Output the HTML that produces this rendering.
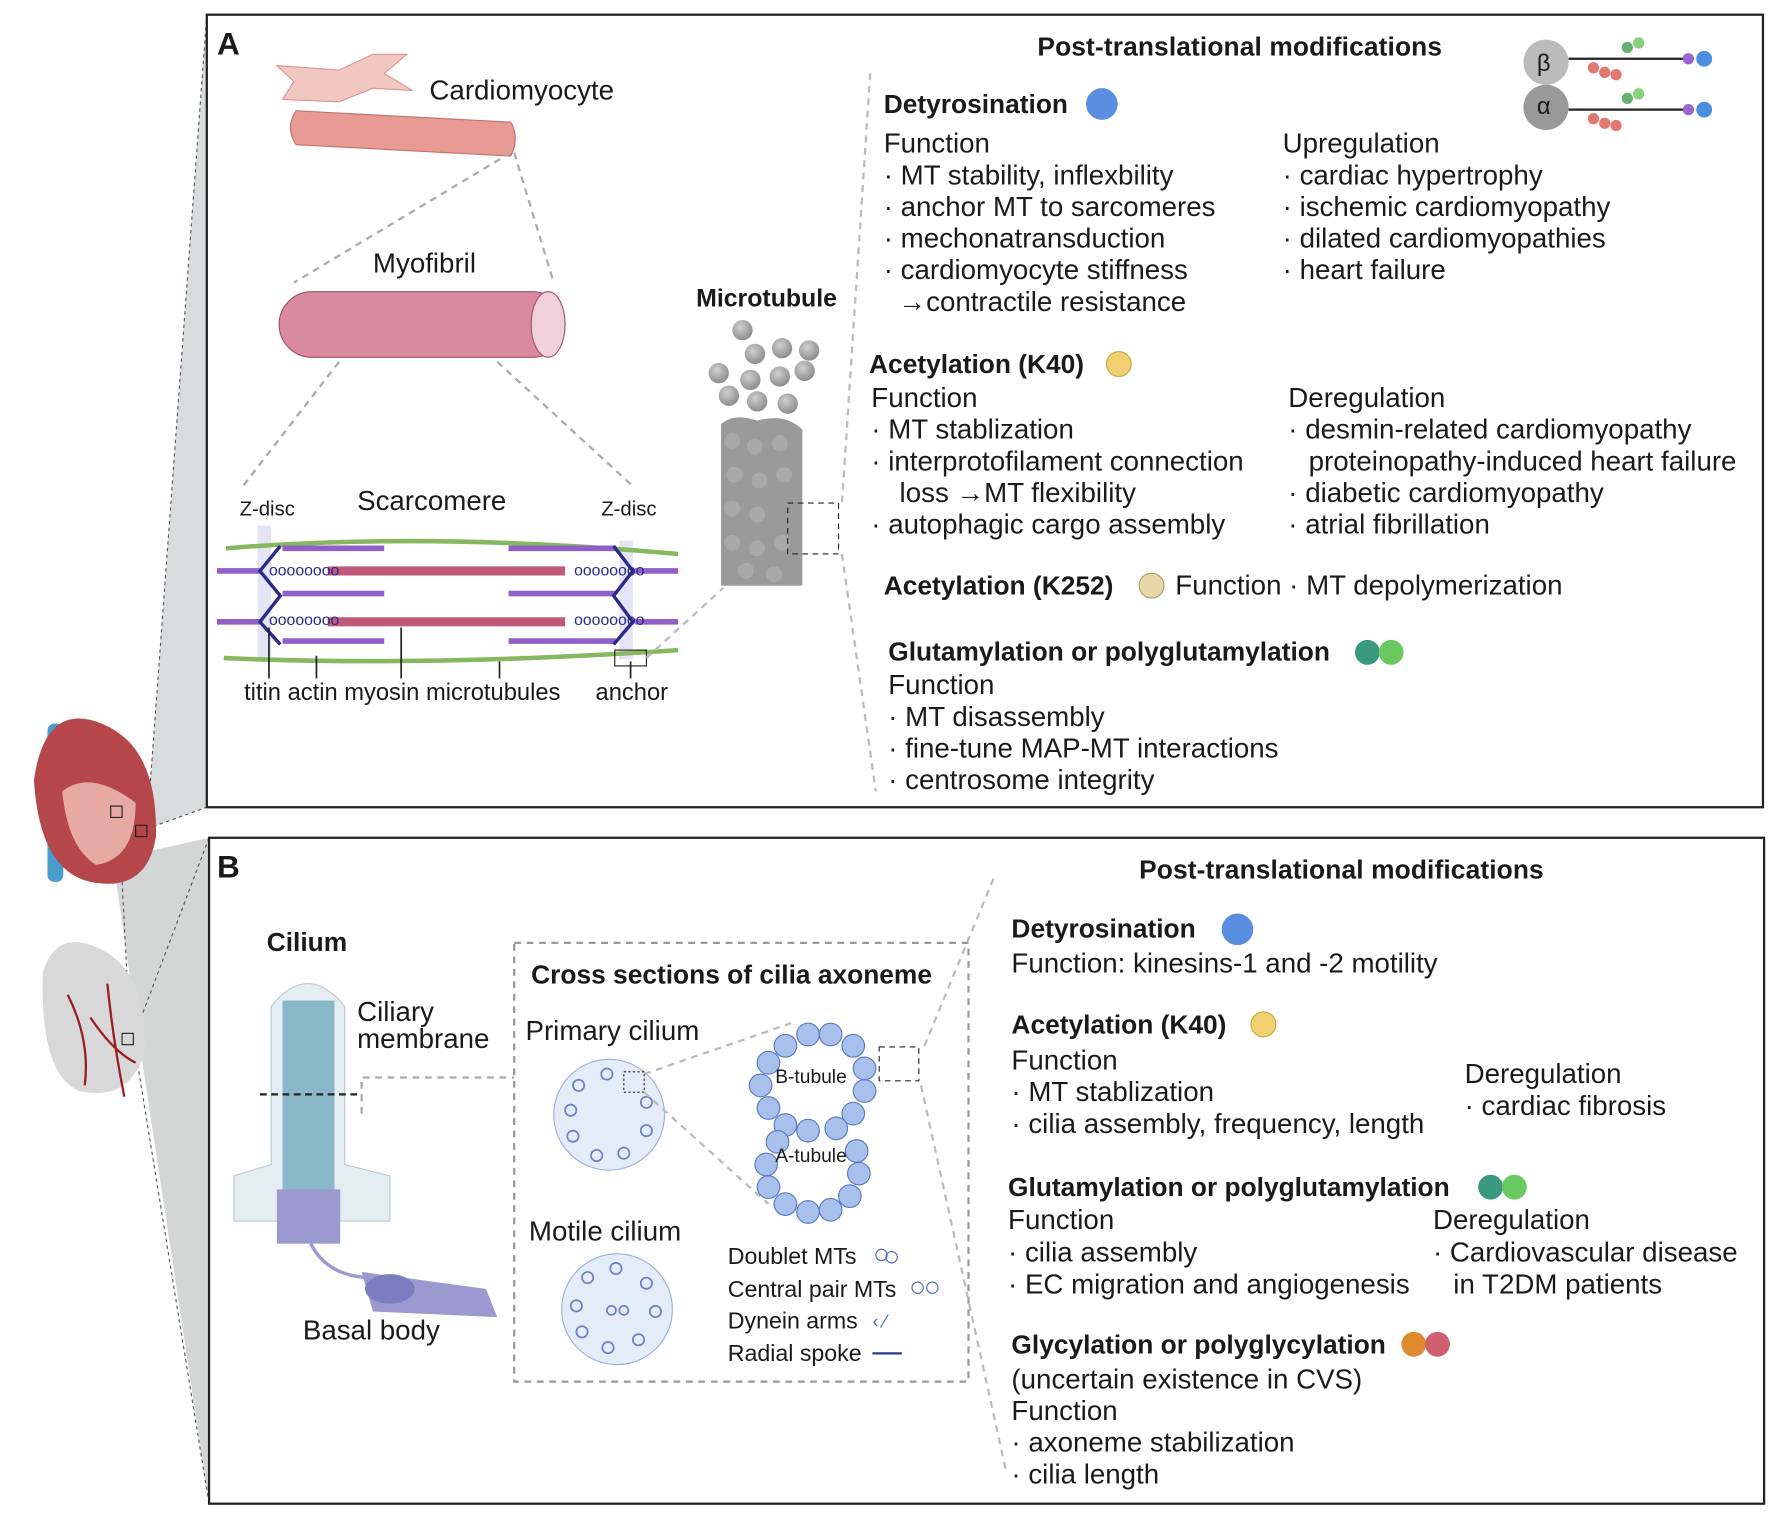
<!DOCTYPE html>
<html><head><meta charset="utf-8"><style>
html,body{margin:0;padding:0;background:#fff}
svg{display:block}
text{font-family:"Liberation Sans",Arial,sans-serif;fill:#1a1a1a}
.b{font-weight:bold;font-size:23.3px}
.t{font-size:24.5px}
</style></head><body>
<svg width="1772" height="1515" viewBox="0 0 1568 1340" preserveAspectRatio="none" xmlns="http://www.w3.org/2000/svg">
<defs>
<radialGradient id="g" cx="0.4" cy="0.35" r="0.7"><stop offset="0" stop-color="#d0d0d0"/><stop offset="1" stop-color="#888"/></radialGradient>
</defs>
<rect width="1568" height="1340" fill="#fff"/>
<polygon points="130,733 183,13 183,714" fill="#d9dcdc"/>
<polygon points="100,760 185,741 185,1330 120,900" fill="#d4d6d6"/>
<line x1="130" y1="733" x2="183" y2="13" stroke="#555" stroke-dasharray="3,3"/>
<line x1="130" y1="733" x2="183" y2="714" stroke="#555" stroke-dasharray="3,3"/>
<line x1="105" y1="720" x2="115" y2="915" stroke="#555" stroke-dasharray="3,3"/>
<line x1="118" y1="918" x2="185" y2="741" stroke="#555" stroke-dasharray="3,3"/>
<line x1="118" y1="918" x2="185" y2="1330" stroke="#555" stroke-dasharray="3,3"/>
<g>
<rect x="42" y="640" width="14" height="140" rx="6" fill="#4a9ccc"/>
<path d="M30 690 Q40 620 90 640 Q140 660 138 740 Q130 790 80 780 Q35 770 30 690Z" fill="#b5474b"/>
<path d="M55 700 Q80 680 120 710 Q120 760 85 765 Q60 750 55 700Z" fill="#e6a9a3"/>
<rect x="98" y="713" width="10" height="10" fill="none" stroke="#222"/>
<rect x="120" y="730" width="10" height="10" fill="none" stroke="#222"/>
</g>
<g>
<path d="M38 860 Q50 820 90 840 Q130 860 128 930 Q115 975 70 965 Q35 950 38 860Z" fill="#d8d8d8"/>
<path d="M60 880 Q80 920 75 960 M95 870 Q100 920 110 970 M80 900 Q100 930 120 940" stroke="#9b1c1c" stroke-width="2" fill="none"/>
<rect x="108" y="914" width="10" height="10" fill="none" stroke="#222"/>
</g>
<rect x="183" y="13" width="1377" height="701" fill="#fff" stroke="#222" stroke-width="2"/>
<text x="192" y="48" style="font-weight:bold;font-size:28px">A</text>
<path d="M245 58 L300 62 L330 48 L360 48 L340 65 L365 80 L330 78 L300 90 L250 88 L260 72Z" fill="#f2c7c2" stroke="#d89690"/>
<path d="M262 98 L452 108 Q460 122 452 138 L262 128 Q252 113 262 98Z" fill="#e89a95" stroke="#c4706b"/>
<text x="380" y="88" class="t">Cardiomyocyte</text>
<line x1="455" y1="135" x2="490" y2="250" stroke="#aaa" stroke-width="2" stroke-dasharray="6,5"/>
<line x1="452" y1="135" x2="260" y2="250" stroke="#aaa" stroke-width="2" stroke-dasharray="6,5"/>
<text x="330" y="241" class="t">Myofibril</text>
<rect x="247" y="258" width="253" height="58" rx="29" fill="#d98a9c" stroke="#a0506a"/>
<ellipse cx="485" cy="287" rx="15" ry="29" fill="#f0d0da" stroke="#a0506a"/>
<line x1="300" y1="320" x2="215" y2="430" stroke="#aaa" stroke-width="2" stroke-dasharray="6,5"/>
<line x1="440" y1="320" x2="560" y2="430" stroke="#aaa" stroke-width="2" stroke-dasharray="6,5"/>
<text x="212" y="456" style="font-size:18px">Z-disc</text>
<text x="316" y="451" class="t">Scarcomere</text>
<text x="532" y="456" style="font-size:18px">Z-disc</text>
<rect x="228" y="465" width="12" height="120" fill="#e4e4f4"/>
<rect x="548" y="478" width="12" height="105" fill="#e4e4f4"/>
<path d="M200 485 Q380 470 600 490" stroke="#86b860" stroke-width="4" fill="none"/>
<path d="M198 582 Q380 590 600 575" stroke="#86b860" stroke-width="4" fill="none"/>
<g stroke="#9060c8" stroke-width="5">
<line x1="192" y1="505" x2="230" y2="505"/><line x1="562" y1="505" x2="600" y2="505"/>
<line x1="192" y1="550" x2="230" y2="550"/><line x1="562" y1="550" x2="600" y2="550"/>
<line x1="250" y1="485" x2="340" y2="485"/><line x1="450" y1="485" x2="545" y2="485"/>
<line x1="250" y1="525" x2="340" y2="525"/><line x1="450" y1="525" x2="545" y2="525"/>
<line x1="250" y1="567" x2="340" y2="567"/><line x1="450" y1="567" x2="545" y2="567"/>
</g>
<g stroke="#c05a78" stroke-width="8">
<line x1="290" y1="505" x2="500" y2="505"/><line x1="290" y1="550" x2="500" y2="550"/>
</g>
<path d="M248 483 L230 505 L248 527 L230 550 L248 570 M543 483 L560 505 L543 527 L560 550 L543 570" stroke="#2a2a8a" stroke-width="3" fill="none"/>
<text x="238" y="509" style="font-size:14px;fill:#2a2a8a">oooooooo</text>
<text x="508" y="509" style="font-size:14px;fill:#2a2a8a">oooooooo</text>
<text x="238" y="553" style="font-size:14px;fill:#2a2a8a">oooooooo</text>
<text x="508" y="553" style="font-size:14px;fill:#2a2a8a">oooooooo</text>
<rect x="544" y="575" width="28" height="14" fill="none" stroke="#222"/>
<g stroke="#222" stroke-width="1.5">
<line x1="238" y1="555" x2="238" y2="600"/><line x1="280" y1="580" x2="280" y2="600"/>
<line x1="355" y1="555" x2="355" y2="600"/><line x1="442" y1="585" x2="442" y2="600"/><line x1="558" y1="585" x2="558" y2="600"/>
</g>
<text x="216" y="619" style="font-size:21px">titin actin myosin microtubules</text>
<text x="527" y="619" style="font-size:21px">anchor</text>
<line x1="572" y1="582" x2="640" y2="520" stroke="#bbb" stroke-width="2" stroke-dasharray="6,5"/>
<text x="616" y="271" style="font-weight:bold;font-size:22px">Microtubule</text>
<g fill="url(#g)">
<circle cx="657" cy="292" r="9"/><circle cx="692" cy="308" r="9"/><circle cx="716" cy="310" r="9"/><circle cx="668" cy="313" r="9"/>
<circle cx="636" cy="330" r="9"/><circle cx="664" cy="336" r="9"/><circle cx="690" cy="333" r="9"/><circle cx="712" cy="328" r="9"/>
<circle cx="645" cy="350" r="9"/><circle cx="670" cy="355" r="9"/><circle cx="697" cy="357" r="9"/>
</g>
<path d="M638 375 Q650 365 670 372 Q695 365 710 380 L710 518 L638 518Z" fill="#9a9a9a"/>
<g fill="#b4b4b4" opacity="0.6">
<circle cx="648" cy="390" r="7"/><circle cx="668" cy="395" r="7"/><circle cx="690" cy="392" r="7"/><circle cx="650" cy="420" r="7"/><circle cx="672" cy="425" r="7"/><circle cx="694" cy="420" r="7"/><circle cx="648" cy="450" r="7"/><circle cx="670" cy="455" r="7"/><circle cx="648" cy="480" r="7"/><circle cx="670" cy="485" r="7"/><circle cx="692" cy="480" r="7"/><circle cx="660" cy="505" r="7"/><circle cx="685" cy="508" r="7"/>
</g>
<rect x="697" y="445" width="45" height="45" fill="none" stroke="#222" stroke-dasharray="5,4"/>
<line x1="770" y1="65" x2="745" y2="445" stroke="#bbb" stroke-width="2" stroke-dasharray="6,5"/>
<line x1="745" y1="490" x2="775" y2="700" stroke="#bbb" stroke-width="2" stroke-dasharray="6,5"/>
<text x="918" y="49" class="b" textLength="358">Post-translational modifications</text>
<circle cx="1368" cy="55" r="20" fill="#bbb"/><text x="1360" y="63" style="font-size:21px">β</text>
<circle cx="1368" cy="95" r="20" fill="#999"/><text x="1360" y="101" style="font-size:21px">α</text>
<line x1="1388" y1="52" x2="1490" y2="52" stroke="#222" stroke-width="2"/>
<line x1="1388" y1="97" x2="1490" y2="97" stroke="#222" stroke-width="2"/>
<circle cx="1508" cy="52" r="7" fill="#4a8ee0"/><circle cx="1508" cy="97" r="7" fill="#4a8ee0"/>
<circle cx="1494" cy="52" r="5" fill="#9a66d0"/><circle cx="1494" cy="97" r="5" fill="#9a66d0"/>
<circle cx="1440" cy="42" r="5" fill="#66b070"/><circle cx="1440" cy="87" r="5" fill="#66b070"/>
<circle cx="1450" cy="38" r="5" fill="#8ad080"/><circle cx="1450" cy="83" r="5" fill="#8ad080"/>
<circle cx="1410" cy="60" r="5" fill="#e07a70"/><circle cx="1420" cy="64" r="5" fill="#e07a70"/><circle cx="1430" cy="66" r="5" fill="#e07a70"/>
<circle cx="1410" cy="105" r="5" fill="#e07a70"/><circle cx="1420" cy="109" r="5" fill="#e07a70"/><circle cx="1430" cy="111" r="5" fill="#e07a70"/>
<text x="782" y="100" class="b">Detyrosination</text>
<circle cx="975" cy="92" r="14" fill="#5a8ee0"/>
<text class="t"><tspan x="782" y="135">Function</tspan><tspan x="782" y="163">· MT stability, inflexbility</tspan><tspan x="782" y="191">· anchor MT to sarcomeres</tspan><tspan x="782" y="219">· mechonatransduction</tspan><tspan x="782" y="247">· cardiomyocyte stiffness</tspan><tspan x="795" y="275">→contractile resistance</tspan></text>
<text class="t"><tspan x="1135" y="135">Upregulation</tspan><tspan x="1135" y="163">· cardiac hypertrophy</tspan><tspan x="1135" y="191">· ischemic cardiomyopathy</tspan><tspan x="1135" y="219">· dilated cardiomyopathies</tspan><tspan x="1135" y="247">· heart failure</tspan></text>
<text x="769" y="330" class="b">Acetylation (K40)</text>
<circle cx="990" cy="322" r="11" fill="#f0d070" stroke="#c8a840"/>
<text class="t"><tspan x="771" y="360">Function</tspan><tspan x="771" y="388">·  MT stablization</tspan><tspan x="771" y="416">·  interprotofilament connection</tspan><tspan x="796" y="444">loss  →MT flexibility</tspan><tspan x="771" y="472">·  autophagic cargo assembly</tspan></text>
<text class="t"><tspan x="1140" y="360">Deregulation</tspan><tspan x="1140" y="388">· desmin-related cardiomyopathy</tspan><tspan x="1158" y="416">proteinopathy-induced heart failure</tspan><tspan x="1140" y="444">· diabetic cardiomyopathy</tspan><tspan x="1140" y="472">· atrial fibrillation</tspan></text>
<text x="782" y="526" class="b">Acetylation (K252)</text>
<circle cx="1019" cy="518" r="11" fill="#e4d8a8" stroke="#a8a070"/>
<text x="1040" y="526" class="t">Function   · MT depolymerization</text>
<text x="786" y="584" class="b">Glutamylation or polyglutamylation</text>
<circle cx="1210" cy="577" r="11" fill="#3a9a80"/><circle cx="1231" cy="577" r="11" fill="#6ac860"/>
<text class="t"><tspan x="786" y="614">Function</tspan><tspan x="786" y="642">· MT disassembly</tspan><tspan x="786" y="670">· fine-tune MAP-MT interactions</tspan><tspan x="786" y="698">· centrosome integrity</tspan></text>
<rect x="185" y="741" width="1376" height="589" fill="#fff" stroke="#222" stroke-width="2"/>
<text x="192" y="776" style="font-weight:bold;font-size:28px">B</text>
<text x="236" y="841" class="b">Cilium</text>
<path d="M240 1030 L240 890 Q272 850 305 890 L305 1030 L345 1040 L345 1080 L207 1080 L207 1040Z" fill="#e4edf1" stroke="#b8cbd4"/>
<rect x="250" y="885" width="46" height="170" fill="#8ab8c8"/>
<rect x="245" y="1052" width="56" height="48" fill="#9a9ad0"/>
<path d="M320 1125 L430 1140 L440 1165 L330 1160Z" fill="#9a9ad0"/>
<ellipse cx="345" cy="1140" rx="22" ry="13" fill="#7c7cc0"/>
<path d="M275 1100 Q290 1130 330 1130" stroke="#9a9ad0" stroke-width="3" fill="none"/>
<line x1="230" y1="968" x2="320" y2="968" stroke="#222" stroke-width="2" stroke-dasharray="6,4"/>
<text class="t"><tspan x="316" y="903">Ciliary</tspan><tspan x="316" y="927">membrane</tspan></text>
<text x="268" y="1185" class="t">Basal body</text>
<path d="M320 985 L320 953 L455 953" stroke="#aaa" stroke-width="2" stroke-dasharray="6,5" fill="none"/>
<rect x="455" y="834" width="402" height="388" fill="none" stroke="#999" stroke-width="2" stroke-dasharray="6,5"/>
<text x="470" y="870" class="b">Cross sections of  cilia axoneme</text>
<text x="465" y="920" class="t">Primary cilium</text>
<circle cx="539" cy="986" r="49" fill="#e4ecf8" stroke="#9ab0d8"/>
<text x="468" y="1097" class="t">Motile cilium</text>
<circle cx="546" cy="1158" r="49" fill="#e4ecf8" stroke="#9ab0d8"/>
<g fill="none" stroke="#6a80c0" stroke-width="1.5">
<circle cx="512" cy="960" r="5"/><circle cx="537" cy="950" r="5"/><circle cx="572" cy="975" r="5"/><circle cx="572" cy="1000" r="5"/><circle cx="552" cy="1020" r="5"/><circle cx="528" cy="1022" r="5"/><circle cx="507" cy="1005" r="5"/><circle cx="505" cy="982" r="5"/>
<circle cx="520" cy="1130" r="5"/><circle cx="545" cy="1122" r="5"/><circle cx="572" cy="1135" r="5"/><circle cx="580" cy="1160" r="5"/><circle cx="565" cy="1185" r="5"/><circle cx="538" cy="1192" r="5"/><circle cx="515" cy="1178" r="5"/><circle cx="510" cy="1155" r="5"/><circle cx="541" cy="1159" r="4"/><circle cx="552" cy="1159" r="4"/>
</g>
<rect x="552" y="948" width="18" height="18" fill="none" stroke="#222" stroke-dasharray="2,2"/>
<line x1="570" y1="950" x2="700" y2="905" stroke="#bbb" stroke-width="2" stroke-dasharray="6,5"/>
<line x1="570" y1="966" x2="680" y2="1065" stroke="#bbb" stroke-width="2" stroke-dasharray="6,5"/>
<g fill="#a8c0ec" stroke="#5a78c0">
<circle cx="715" cy="915" r="10"/><circle cx="695" cy="925" r="10"/><circle cx="680" cy="940" r="10"/><circle cx="673" cy="960" r="10"/><circle cx="680" cy="980" r="10"/><circle cx="695" cy="995" r="10"/><circle cx="735" cy="915" r="10"/><circle cx="755" cy="925" r="10"/><circle cx="765" cy="945" r="10"/><circle cx="765" cy="965" r="10"/><circle cx="755" cy="985" r="10"/>
<circle cx="688" cy="1010" r="10"/><circle cx="678" cy="1030" r="10"/><circle cx="680" cy="1050" r="10"/><circle cx="695" cy="1065" r="10"/><circle cx="715" cy="1072" r="10"/><circle cx="735" cy="1070" r="10"/><circle cx="752" cy="1058" r="10"/><circle cx="760" cy="1038" r="10"/><circle cx="758" cy="1018" r="10"/><circle cx="740" cy="998" r="10"/><circle cx="715" cy="1000" r="10"/>
</g>
<text x="686" y="958" style="font-size:17px">B-tubule</text>
<text x="686" y="1028" style="font-size:17px">A-tubule</text>
<rect x="778" y="926" width="35" height="30" fill="none" stroke="#222" stroke-dasharray="5,4"/>
<line x1="818" y1="925" x2="880" y2="775" stroke="#bbb" stroke-width="2" stroke-dasharray="6,5"/>
<line x1="815" y1="960" x2="890" y2="1300" stroke="#bbb" stroke-width="2" stroke-dasharray="6,5"/>
<text style="font-size:20.5px"><tspan x="644" y="1118">Doublet MTs</tspan><tspan x="644" y="1147">Central pair MTs</tspan><tspan x="644" y="1175">Dynein arms</tspan><tspan x="644" y="1204">Radial spoke</tspan></text>
<circle cx="780" cy="1110" r="5" fill="none" stroke="#4a6ac0"/><circle cx="789" cy="1112" r="5" fill="none" stroke="#4a6ac0"/>
<circle cx="812" cy="1139" r="5" fill="none" stroke="#4a6ac0"/><circle cx="825" cy="1139" r="5" fill="none" stroke="#4a6ac0"/>
<text x="772" y="1174" style="font-size:16px;fill:#4a6ac0">‹ ⁄</text>
<line x1="772" y1="1197" x2="798" y2="1197" stroke="#2a3a8a" stroke-width="2"/>
<text x="1008" y="777" class="b" textLength="358">Post-translational modifications</text>
<text x="895" y="829" class="b">Detyrosination</text>
<circle cx="1095" cy="822" r="14" fill="#5a8ee0"/>
<text x="895" y="860" class="t">Function: kinesins-1 and -2 motility</text>
<text x="895" y="914" class="b">Acetylation (K40)</text>
<circle cx="1118" cy="906" r="11" fill="#f0d070" stroke="#c8a840"/>
<text class="t"><tspan x="895" y="946">Function</tspan><tspan x="895" y="974">· MT stablization</tspan><tspan x="895" y="1002">· cilia assembly, frequency, length</tspan></text>
<text class="t"><tspan x="1296" y="958">Deregulation</tspan><tspan x="1296" y="986">· cardiac fibrosis</tspan></text>
<text x="892" y="1058" class="b">Glutamylation or polyglutamylation</text>
<circle cx="1319" cy="1050" r="11" fill="#3a9a80"/><circle cx="1340" cy="1050" r="11" fill="#6ac860"/>
<text class="t"><tspan x="892" y="1087">Function</tspan><tspan x="892" y="1116">· cilia assembly</tspan><tspan x="892" y="1144">· EC migration and angiogenesis</tspan></text>
<text class="t"><tspan x="1268" y="1087">Deregulation</tspan><tspan x="1268" y="1116">· Cardiovascular disease</tspan><tspan x="1286" y="1144">in T2DM patients</tspan></text>
<text x="895" y="1197" class="b">Glycylation or polyglycylation</text>
<circle cx="1251" cy="1189" r="11" fill="#e08a30"/><circle cx="1272" cy="1189" r="11" fill="#d06070"/>
<text class="t"><tspan x="895" y="1228">(uncertain existence in CVS)</tspan><tspan x="895" y="1256">Function</tspan><tspan x="895" y="1284">· axoneme stabilization</tspan><tspan x="895" y="1312">· cilia length</tspan></text>
</svg>
</body></html>
